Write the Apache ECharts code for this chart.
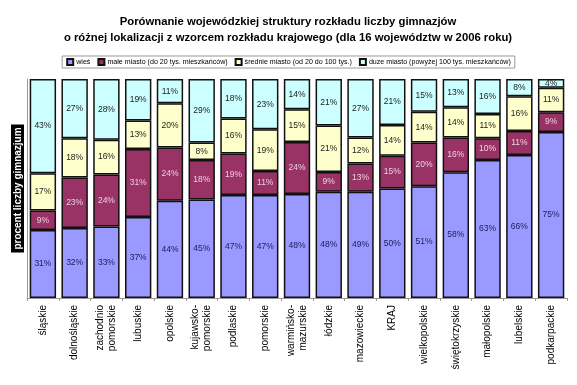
<!DOCTYPE html>
<html><head><meta charset="utf-8">
<script src="https://cdn.jsdelivr.net/npm/echarts@6/dist/echarts.min.js"></script>
<style>html,body{margin:0;padding:0;background:#fff}#c{width:577px;height:385px}</style>
</head><body><div id="c"></div>
<script>
const categories = ['śląskie','dolnośląskie','zachodnio\npomorskie','lubuskie','opolskie','kujawsko-\npomorskie','podlaskie','pomorskie','warmińsko-\nmazurskie','łódzkie','mazowieckie','KRAJ','wielkopolskie','świętokrzyskie','małopolskie','lubelskie','podkarpackie'];
const wies   = [31,32,33,37,44,45,47,47,48,48,49,50,51,58,63,66,75];
const male   = [9,23,24,31,24,18,19,11,24,9,13,15,20,16,10,11,9];
const srednie= [17,18,16,13,20,8,16,19,15,21,12,14,14,14,11,16,11];
const duze   = [43,27,28,19,11,29,18,23,14,21,27,21,15,13,16,8,4];
const seriesNames = ['wieś','małe miasto (do 20 tys. mieszkańców)','średnie miasto (od 20 do 100 tys.)','duze miasto (powyżej 100 tys. mieszkańców)'];
const colors = ['#9999FF','#993366','#FFFFCC','#CCFFFF'];
const labelColors = ['#202060','#eccfe0','#222222','#222222'];
const all = [wies, male, srednie, duze];
const totals = categories.map((_, i) => all.reduce((s, a) => s + a[i], 0));
const FONT = '"Liberation Sans", Arial';

const chart = echarts.init(document.getElementById('c'));
chart.setOption({
  backgroundColor: '#fff',
  animation: false,
  title: {
    text: 'Porównanie wojewódzkiej struktury rozkładu liczby gimnazjów\no różnej lokalizacji z wzorcem rozkładu krajowego (dla 16 województw w 2006 roku)',
    left: 283, top: 9, textAlign: 'center',
    textStyle: {fontFamily: FONT, fontSize: 11.3, fontWeight: 'bold', color: '#000', lineHeight: 16}
  },
  legend: {
    top: 56, left: 'center', icon: 'rect',
    itemWidth: 6, itemHeight: 6, itemGap: 7,
    padding: [2, 4], borderColor: '#999', borderWidth: 1,
    textStyle: {fontFamily: FONT, fontSize: 7.1, color: '#000', padding: [0, 0, 0, -2]},
    data: seriesNames
  },
  grid: {left: 27, right: 10, top: 79, bottom: 87},
  xAxis: {
    type: 'category', data: categories,
    axisLine: {lineStyle: {color: '#999'}},
    axisTick: {show: true, length: 3, lineStyle: {color: '#999'}},
    axisLabel: {rotate: 90, interval: 0, margin: 7, fontFamily: FONT, fontSize: 10, color: '#000', lineHeight: 12}
  },
  yAxis: {
    type: 'value', min: 0, max: 100,
    name: 'procent liczby gimnazjum', nameLocation: 'middle', nameGap: 3, nameRotate: 90,
    nameTextStyle: {color: '#fff', backgroundColor: '#000', fontFamily: FONT, fontSize: 10, fontWeight: 'bold', padding: [2, 3, 1, 3]},
    axisLine: {show: true, lineStyle: {color: '#999'}},
    axisTick: {show: false}, axisLabel: {show: false}, splitLine: {show: false}
  },
  series: all.map((arr, k) => ({
    name: seriesNames[k], type: 'bar', stack: 'a', barCategoryGap: '17%',
    data: arr.map((v, i) => ({value: v * 100 / totals[i], raw: v})),
    itemStyle: {color: colors[k], borderColor: '#111', borderWidth: 1.5},
    label: {show: true, position: 'inside', fontFamily: FONT, fontSize: 8.5, color: labelColors[k],
      formatter: p => p.data.raw + '%'}
  }))
});
</script></body></html>
